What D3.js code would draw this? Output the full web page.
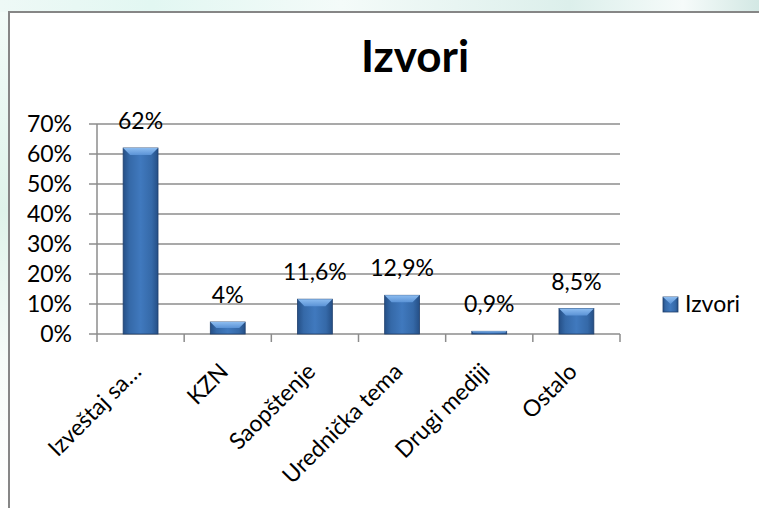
<!DOCTYPE html>
<html>
<head>
<meta charset="utf-8">
<script src="https://cdn.jsdelivr.net/npm/d3@7"></script>
<style>
  html, body { margin: 0; padding: 0; background: #fff; }
  svg { display: block; font-family: Lato, "Open Sans", sans-serif; }
</style>
</head>
<body>
<svg id="chart" width="759" height="508"></svg>
<script>
const categories = ['Izveštaj sa…', 'KZN', 'Saopštenje', 'Urednička tema', 'Drugi mediji', 'Ostalo'];
const values = [62, 4, 11.6, 12.9, 0.9, 8.5];
const valueLabels = ['62%', '4%', '11,6%', '12,9%', '0,9%', '8,5%'];
const yTicks = [0, 10, 20, 30, 40, 50, 60, 70];
const seriesName = 'Izvori';
const title = 'Izvori';

const svg = d3.select('#chart');
const defs = svg.append('defs');

// faint page background behind the chart frame
const bg = defs.append('linearGradient').attr('id', 'bg').attr('x1', 0).attr('x2', 1);
bg.append('stop').attr('offset', '0%').attr('stop-color', '#eef9f6');
bg.append('stop').attr('offset', '20%').attr('stop-color', '#e2f7f2');
bg.append('stop').attr('offset', '45%').attr('stop-color', '#f4fbf9');
bg.append('stop').attr('offset', '75%').attr('stop-color', '#dcefeb');
bg.append('stop').attr('offset', '90%').attr('stop-color', '#f6fbfa');
bg.append('stop').attr('offset', '100%').attr('stop-color', '#d3e8e4');
svg.append('rect').attr('width', 759).attr('height', 508).attr('fill', 'url(#bg)');

const leftBg = defs.append('linearGradient').attr('id', 'leftBg').attr('x1', 0).attr('x2', 0).attr('y1', 0).attr('y2', 1);
leftBg.append('stop').attr('offset', '0%').attr('stop-color', '#f2fbf8');
leftBg.append('stop').attr('offset', '40%').attr('stop-color', '#dff3ea');
leftBg.append('stop').attr('offset', '70%').attr('stop-color', '#f6fbf8');
leftBg.append('stop').attr('offset', '100%').attr('stop-color', '#ffffff');
svg.append('rect').attr('x', 0).attr('y', 12).attr('width', 9).attr('height', 496).attr('fill', 'url(#leftBg)');

// chart frame
svg.append('rect')
  .attr('x', 9).attr('y', 12).attr('width', 760).attr('height', 510)
  .attr('fill', '#fff').attr('stroke', '#868686').attr('stroke-width', 2);

// bar gradients
const body = defs.append('linearGradient').attr('id', 'barBody').attr('x1', 0).attr('x2', 1);
body.append('stop').attr('offset', '0%').attr('stop-color', '#254f86');
body.append('stop').attr('offset', '18%').attr('stop-color', '#3569a8');
body.append('stop').attr('offset', '50%').attr('stop-color', '#4079be');
body.append('stop').attr('offset', '82%').attr('stop-color', '#3569a8');
body.append('stop').attr('offset', '100%').attr('stop-color', '#254f86');
const bevel = defs.append('linearGradient').attr('id', 'barTop').attr('x1', 0).attr('x2', 0).attr('y1', 0).attr('y2', 1);
bevel.append('stop').attr('offset', '0%').attr('stop-color', '#8cbcf0');
bevel.append('stop').attr('offset', '100%').attr('stop-color', '#5b93d6');

const margin = { top: 124, left: 97, right: 139, bottom: 174 };
const width = 759 - margin.left - margin.right;
const height = 508 - margin.top - margin.bottom;

const g = svg.append('g').attr('transform', `translate(${margin.left},${margin.top})`);

const x = d3.scaleBand().domain(categories).range([0, width]).paddingInner(0.6).paddingOuter(0.3);
const xEdge = d3.scaleLinear().domain([0, categories.length]).range([0, width]);
const y = d3.scaleLinear().domain([0, 70]).range([height, 0]);

// gridlines
g.append('g').selectAll('line').data(yTicks).join('line')
  .attr('x1', -8).attr('x2', width)
  .attr('y1', d => y(d)).attr('y2', d => y(d))
  .attr('stroke', '#8c8c8c').attr('stroke-width', 1.5);

// y tick labels
g.append('g').selectAll('text').data(yTicks).join('text')
  .attr('x', -25).attr('y', d => y(d)).attr('dy', '0.35em')
  .attr('text-anchor', 'end').attr('font-size', 23).attr('fill', '#000')
  .text(d => d + '%');

// y axis line
g.append('line').attr('x1', 0).attr('x2', 0).attr('y1', 0).attr('y2', height + 8)
  .attr('stroke', '#8c8c8c').attr('stroke-width', 1.5);

// x ticks at category boundaries
g.append('g').selectAll('line').data(d3.range(1, categories.length + 1)).join('line')
  .attr('x1', d => xEdge(d)).attr('x2', d => xEdge(d))
  .attr('y1', height).attr('y2', height + 8)
  .attr('stroke', '#8c8c8c').attr('stroke-width', 1.5);

// bars
const bars = g.append('g').selectAll('g').data(values).join('g');
bars.append('rect')
  .attr('x', (d, i) => x(categories[i]))
  .attr('y', d => y(d))
  .attr('width', x.bandwidth())
  .attr('height', d => height - y(d))
  .attr('fill', 'url(#barBody)')
  .attr('stroke', '#1f3f6c').attr('stroke-width', 0.8);
bars.append('polygon')
  .attr('points', (d, i) => {
    const x0 = x(categories[i]), x1 = x0 + x.bandwidth(), t = y(d);
    const b = Math.min(7, (height - y(d)) / 2);
    return [[x0, t], [x1, t], [x1 - b, t + b], [x0 + b, t + b]].map(p => p.join(',')).join(' ');
  })
  .attr('fill', 'url(#barTop)');

// value labels
g.append('g').selectAll('text').data(values).join('text')
  .attr('x', (d, i) => x(categories[i]) + x.bandwidth() / 2)
  .attr('y', d => y(d) - 19)
  .attr('text-anchor', 'middle').attr('font-size', 23).attr('fill', '#000')
  .text((d, i) => valueLabels[i]);

// category labels, rotated
g.append('g').selectAll('text').data(categories).join('text')
  .attr('transform', d => `translate(${x(d) + x.bandwidth() / 2 + 2},${height + 39}) rotate(-45)`)
  .attr('text-anchor', 'end').attr('font-size', 23).attr('fill', '#000')
  .text(d => d);

// title
svg.append('text')
  .attr('x', 415).attr('y', 72)
  .attr('text-anchor', 'middle').attr('font-size', 44).attr('font-weight', 'bold')
  .text(title);

// legend
const lg = svg.append('g').attr('transform', 'translate(663,297)');
lg.append('rect').attr('width', 15).attr('height', 15).attr('fill', 'url(#barBody)')
  .attr('stroke', '#1f3f6c').attr('stroke-width', 0.8);
lg.append('polygon').attr('points', '0,0 15,0 7.5,7 ').attr('fill', 'url(#barTop)');
lg.append('text').attr('x', 22).attr('y', 15).attr('font-size', 23).text(seriesName);
</script>
</body>
</html>
